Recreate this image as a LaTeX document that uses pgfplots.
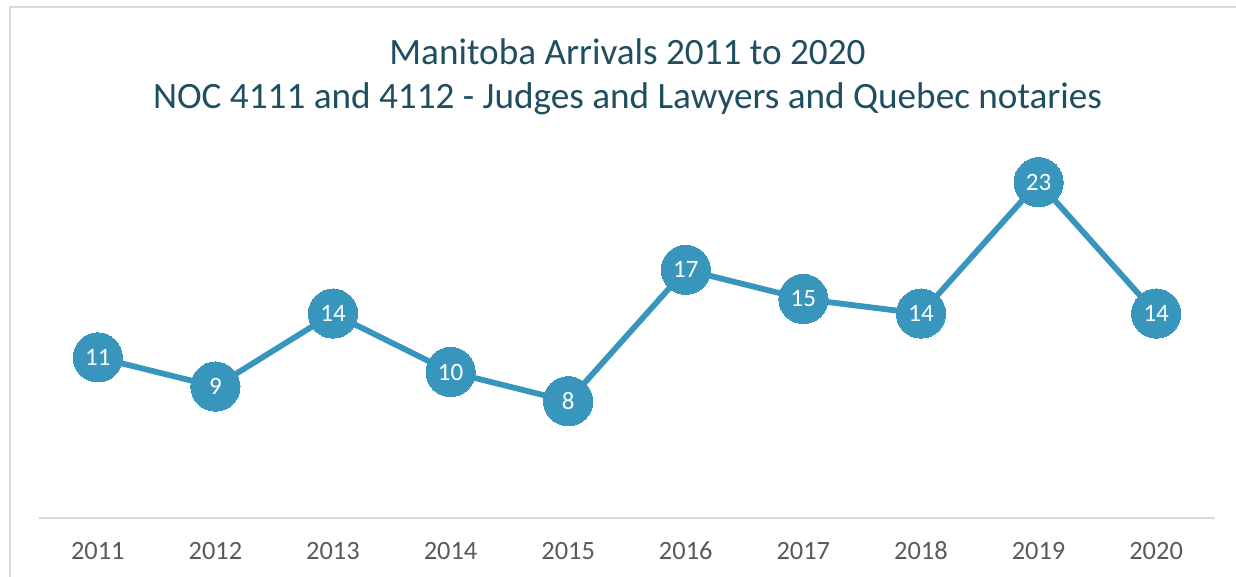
\documentclass[border=0pt]{standalone}
\usepackage{pgfplots}
\pgfplotsset{compat=1.18}
\usepackage{fontspec}
\setmainfont{Carlito}
\definecolor{linec}{RGB}{56,150,189}
\definecolor{titlec}{RGB}{30,78,96}
\definecolor{tickc}{RGB}{89,89,89}
\definecolor{framec}{RGB}{217,217,217}
\begin{document}
\begin{tikzpicture}
\useasboundingbox (0,0) rectangle (618pt,288.5pt);
\draw[framec, line width=1pt] (5pt,-20pt) -- (5pt,285pt) -- (650pt,285pt);
\node[anchor=base, text=titlec, font=\fontsize{18.6pt}{22pt}\selectfont] at (313.75pt,256pt) {Manitoba Arrivals 2011 to 2020};
\node[anchor=base, text=titlec, font=\fontsize{18.6pt}{22pt}\selectfont] at (313.75pt,234pt) {NOC 4111 and 4112 - Judges and Lawyers and Quebec notaries};
\begin{axis}[
  at={(19.5pt,29.5pt)}, anchor=south west,
  scale only axis, width=588pt, height=182.5pt,
  xmin=2010.5, xmax=2020.5, ymin=0, ymax=25,
  hide y axis,
  axis x line*=bottom,
  x axis line style={draw=framec, line width=1pt, -},
  xtick={2011,...,2020},
  xticklabels={2011,2012,2013,2014,2015,2016,2017,2018,2019,2020},
  major tick length=0pt,
  xticklabel style={text=tickc, font=\fontsize{13.2pt}{15pt}\selectfont, anchor=base, yshift=-21pt},
  clip=false,
  /pgf/number format/assume math mode=true,
  nodes near coords,
  every node near coord/.append style={anchor=center, text=white, font=\fontsize{12.5pt}{14pt}\selectfont},
]
\addplot[color=linec, line width=2.9pt, mark=*, mark size=12.3pt, mark options={fill=linec, draw=linec, line width=0pt}]
coordinates {(2011,11) (2012,9) (2013,14) (2014,10) (2015,8) (2016,17) (2017,15) (2018,14) (2019,23) (2020,14)};
\end{axis}
\end{tikzpicture}
\end{document}
